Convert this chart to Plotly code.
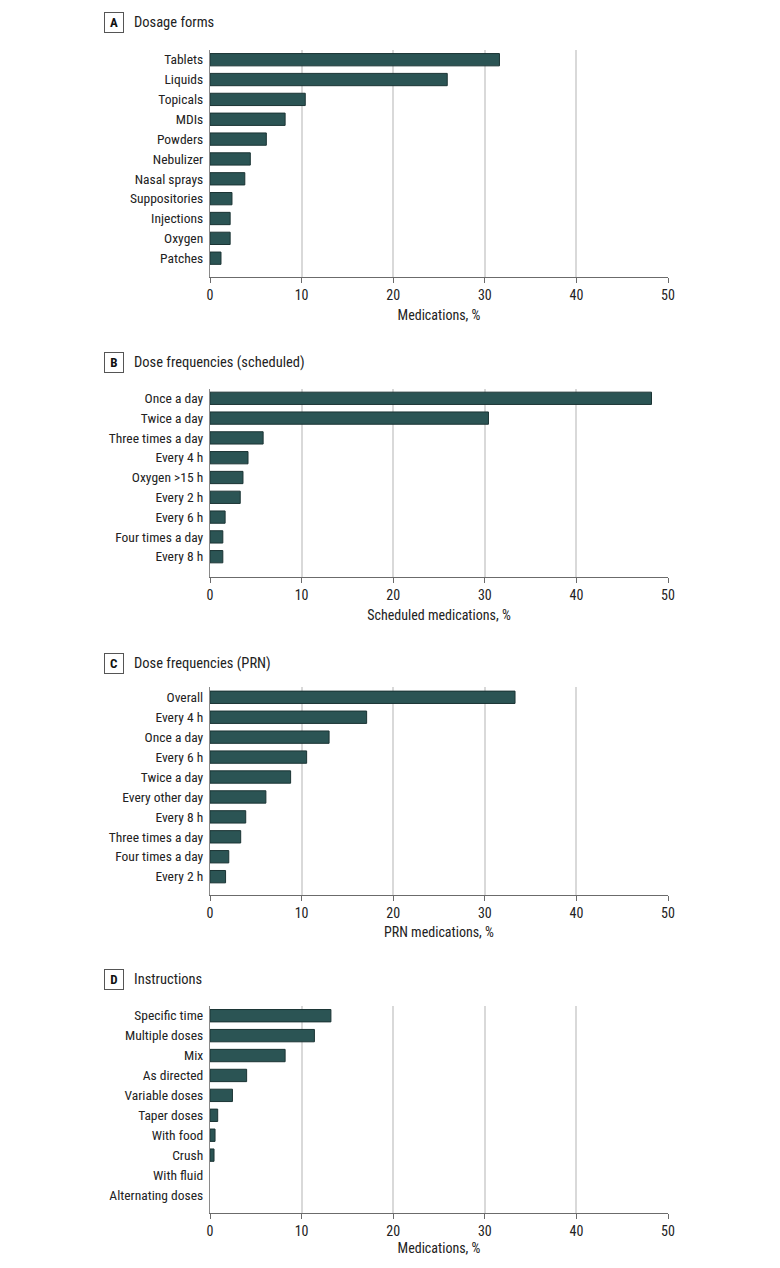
import plotly.graph_objects as go

# The page body has an 8px margin; keep the figure small enough to avoid any scrollbars
OFF = 8
W, H = 756, 1248

# ---- Data ----
forms_labels = ["Tablets", "Liquids", "Topicals", "MDIs", "Powders", "Nebulizer",
                "Nasal sprays", "Suppositories", "Injections", "Oxygen", "Patches"]
forms_values = [31.6, 25.9, 10.4, 8.2, 6.15, 4.4, 3.8, 2.4, 2.2, 2.2, 1.2]

sched_labels = ["Once a day", "Twice a day", "Three times a day", "Every 4 h",
                "Oxygen >15 h", "Every 2 h", "Every 6 h", "Four times a day", "Every 8 h"]
sched_values = [48.2, 30.4, 5.8, 4.15, 3.6, 3.3, 1.65, 1.4, 1.4]

prn_labels = ["Overall", "Every 4 h", "Once a day", "Every 6 h", "Twice a day",
              "Every other day", "Every 8 h", "Three times a day", "Four times a day", "Every 2 h"]
prn_values = [33.3, 17.1, 13.0, 10.55, 8.8, 6.1, 3.9, 3.35, 2.05, 1.7]

instr_labels = ["Specific time", "Multiple doses", "Mix", "As directed", "Variable doses",
                "Taper doses", "With food", "Crush", "With fluid", "Alternating doses"]
instr_values = [13.2, 11.4, 8.2, 4.0, 2.45, 0.84, 0.55, 0.44, 0, 0]

x_ticks = [0, 10, 20, 30, 40, 50]

panels = [
    ("A", "Dosage forms", forms_labels, forms_values, "Medications, %"),
    ("B", "Dose frequencies (scheduled)", sched_labels, sched_values, "Scheduled medications, %"),
    ("C", "Dose frequencies (PRN)", prn_labels, prn_values, "PRN medications, %"),
    ("D", "Instructions", instr_labels, instr_values, "Medications, %"),
]

# ---- Layout geometry (page pixels) ----
# (plot top, axis line y, first bar center, bar spacing, title y)
geom = [
    (49.5, 277.3, 59.7, 19.85, 22.5),
    (388.5, 577.3, 398.3, 19.8, 362.0),
    (687.3, 895.0, 697.3, 19.93, 663.0),
    (1005.7, 1213.3, 1015.7, 19.92, 979.0),
]
X0, X1 = 210, 668
FONT = "Liberation Sans Narrow, Roboto Condensed, Arial Narrow, DejaVu Sans Condensed, sans-serif"
BAR = "#2b5454"
BAR_LINE = "#1b3434"
GRID = "#d9d9d9"
AXIS = "#6b6b6b"


def px(x):
    return (x - OFF) / W


def py(y):
    return 1 - (y - OFF) / H


fig = go.Figure()
layout = dict(
    width=W, height=H, margin=dict(l=0, r=0, t=0, b=0, pad=0, autoexpand=False),
    paper_bgcolor="white", plot_bgcolor="white",
    showlegend=False, font=dict(family=FONT, size=13, color="#222"),
    bargap=0.38,
)
annotations = []

for i, (letter, title, labels, values, xtitle) in enumerate(panels):
    top, bottom, c0, sp, ty = geom[i]
    n = len(labels)
    lo = -(c0 - top) / sp
    hi = (n - 1) + (bottom - (c0 + (n - 1) * sp)) / sp
    xa = "x" if i == 0 else f"x{i+1}"
    ya = "y" if i == 0 else f"y{i+1}"
    fig.add_trace(go.Bar(
        x=values, y=labels, orientation="h", xaxis=xa, yaxis=ya,
        marker=dict(color=BAR, line=dict(color=BAR_LINE,
                                         width=[1 if v > 0 else 0 for v in values])),
        hoverinfo="x+y",
    ))
    xkey = "xaxis" if i == 0 else f"xaxis{i+1}"
    ykey = "yaxis" if i == 0 else f"yaxis{i+1}"
    layout[xkey] = dict(
        domain=[px(X0), px(X1)], anchor=ya, range=[0, 50], automargin=False,
        tickvals=x_ticks, ticktext=[str(t) for t in x_ticks],
        showgrid=True, gridcolor=GRID, gridwidth=1.5,
        zeroline=False, showline=True, linecolor=AXIS, linewidth=1.2,
        ticks="outside", ticklen=5, tickcolor=AXIS, tickwidth=1.2,
        tickfont=dict(size=14, color="#222"),
        title=dict(text=xtitle, font=dict(size=14, color="#222"), standoff=7),
        fixedrange=True,
    )
    layout[ykey] = dict(
        domain=[py(bottom), py(top)], anchor=xa, type="category", automargin=False,
        categoryorder="array", categoryarray=labels,
        range=[hi, lo], showgrid=False, zeroline=False,
        showline=True, linecolor="#8a8a8a", linewidth=1.2,
        ticks="", ticklabelstandoff=3,
        tickfont=dict(size=13.5, color="#222"),
        fixedrange=True,
    )
    # Panel letter box
    annotations.append(dict(
        x=px(114), y=py(ty), xref="paper", yref="paper",
        text=f"<b>{letter}</b>", showarrow=False,
        font=dict(size=13, color="#111", family=FONT),
        bordercolor="#555", borderwidth=1, borderpad=3,
        bgcolor="white", xanchor="center", yanchor="middle",
        width=12, height=13,
    ))
    annotations.append(dict(
        x=px(132), y=py(ty), xref="paper", yref="paper",
        text=title, showarrow=False,
        font=dict(size=14.5, color="#222", family=FONT),
        xanchor="left", yanchor="middle",
    ))

layout["annotations"] = annotations
fig.update_layout(**layout)
fig.write_html("out.html")
